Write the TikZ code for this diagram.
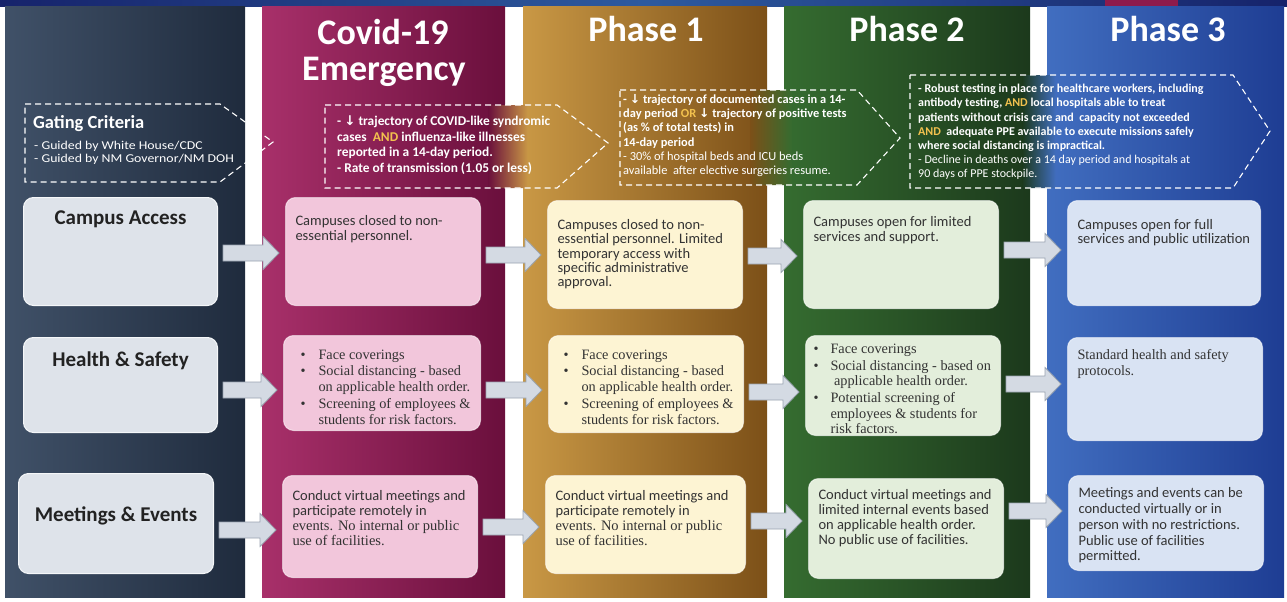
\documentclass[tikz,border=0pt]{standalone}
\usepackage{graphicx}
\usepackage{fontspec}
\setmainfont{Carlito}
\newfontfamily\serifbody{Liberation Serif}
\newfontfamily\headfont{Carlito}
\newfontfamily\symfont{DejaVu Sans}
\usetikzlibrary{calc}

\definecolor{topA}{HTML}{16236B}
\definecolor{topB}{HTML}{2D5A9E}
\definecolor{tabc}{HTML}{8E1B4C}
\definecolor{cZL}{HTML}{405168}
\definecolor{cZR}{HTML}{1F2B3D}
\definecolor{cAL}{HTML}{A8306A}
\definecolor{cAR}{HTML}{6A0F3C}
\definecolor{cBL}{HTML}{C99845}
\definecolor{cBR}{HTML}{7C5018}
\definecolor{cCL}{HTML}{356C30}
\definecolor{cCR}{HTML}{1C391C}
\definecolor{cDL}{HTML}{416EC0}
\definecolor{cDR}{HTML}{1E3D93}
\definecolor{grayb}{HTML}{DEE3EA}
\definecolor{pinkb}{HTML}{F2C6DB}
\definecolor{creamb}{HTML}{FDF4D3}
\definecolor{greenb}{HTML}{E3EEDB}
\definecolor{blueb}{HTML}{D9E3F3}
\definecolor{arrf}{HTML}{D4DAE3}
\definecolor{arrd}{HTML}{9AA4B0}
\definecolor{txt}{HTML}{333333}
\definecolor{lbltxt}{HTML}{222222}
\definecolor{andc}{HTML}{F2C14E}

\newcommand\bsans[2]{\fontsize{#1}{#2}\selectfont\color{txt}}
\newcommand\bser[2]{\serifbody\fontsize{#1}{#2}\selectfont\color{txt}}
\newcommand\lns[2]{{#1\begin{tabular}[t]{@{\hspace{10pt}}l@{}}#2\end{tabular}}}
% bullet offset, text gap, rows
\newcommand\bulls[3]{{\bser{14.3}{15.5}\begin{tabular}[t]{@{\hspace{#1pt}}l@{\hspace{#2pt}}l@{}}#3\end{tabular}}}
\newcommand\dn{{\symfont\char"2193}}

\tikzset{
 headtxt/.style={text=white, inner sep=0pt, anchor=base, font=\headfont\bfseries\fontsize{36}{38}\selectfont},
 crit/.style={draw=white, dash pattern=on 6pt off 4pt, line width=1.1pt},
 crittxt/.style={text=white, inner sep=0pt, anchor=north west, align=left},
 lboxst/.style={rounded corners=10pt, draw=white!70!grayb, line width=1pt, fill=grayb, inner sep=0pt, text=lbltxt, anchor=north west},
 cboxst/.style={rounded corners=10pt, draw=white, draw opacity=0.55, line width=1pt, inner sep=0pt, anchor=north west},
 blockarrow/.style={fill=arrf, draw=arrd, line width=0.8pt},
}

% name, x1, y1, x2, y2, fill, top pad, content
\newcommand\contentbox[8]{%
 \node[cboxst, fill=#6] (#1) at (#2,#3)
 {\parbox[c][\dimexpr #5pt-#3pt\relax][t]{\dimexpr #4pt-#2pt\relax}{\vspace*{#7pt}\noindent #8}};}
% name, x1, y1, x2, y2, top pad, label
\newcommand\labelbox[7]{%
 \node[lboxst] (#1) at (#2,#3)
 {\parbox[c][\dimexpr #5pt-#3pt\relax][t]{\dimexpr #4pt-#2pt\relax}{\vspace*{#6pt}\centering\bfseries\fontsize{21}{24}\selectfont #7}};}
% from node, to node, y
\newcommand\blockarr[3]{%
 \draw[blockarrow] let \p1=(#1.east), \p2=(#2.west), \p3=(0,#3) in
 (\x1+5pt,\y3+8pt) -- (\x2-22pt,\y3+8pt) -- (\x2-22pt,\y3+16.5pt) -- (\x2-6pt,\y3)
 -- (\x2-22pt,\y3-16.5pt) -- (\x2-22pt,\y3-8pt) -- (\x1+5pt,\y3-8pt) -- cycle;}

\begin{document}
\begin{tikzpicture}[x=1pt,y=-1pt]
\useasboundingbox (0,0) rectangle (1287,602);
\fill[white] (0,0) rectangle (1287,602);

% top strip
\shade[left color=topA, right color=topA, middle color=topB] (0,0) rectangle (1287,7);
\fill[tabc] (1105,0) rectangle (1178,7);

% columns
\shade[left color=cZL, right color=cZR] (5,7) rectangle (245,597);
\shade[left color=cAL, right color=cAR] (262,7) rectangle (505,597);
\shade[left color=cBL, right color=cBR] (523,7) rectangle (767,597);
\shade[left color=cCL, right color=cCR] (784,7) rectangle (1030,597);
\shade[left color=cDL, right color=cDR] (1047,7) rectangle (1284,597);

% headers
\node[headtxt] (hcov) at (383,45) {Covid-19};
\node[headtxt] (hemg) at (384,81) {Emergency};
\node[headtxt] (hp1) at (646,42) {Phase 1};
\node[headtxt] (hp2) at (907,42) {Phase 2};
\node[headtxt] (hp3) at (1168,42) {Phase 3};

% criteria arrows
\coordinate (g1) at (25,104);  \coordinate (g2) at (220,104); \coordinate (g3) at (273,142);
\coordinate (g4) at (220,182); \coordinate (g5) at (25,182);
\draw[crit] (g1) -- (g2) -- (g3) -- (g4) -- (g5) -- cycle;

\coordinate (e1) at (325,105); \coordinate (e2) at (557,105); \coordinate (e3) at (608,143);
\coordinate (e4) at (557,188); \coordinate (e5) at (325,188);
\begin{scope}
 \clip (e1) -- (e2) -- (e3) -- (e4) -- (e5) -- cycle;
 \shade[left color=cAR, right color=cBL] (488,100) rectangle (528,195);
\end{scope}
\draw[crit] (e1) -- (e2) -- (e3) -- (e4) -- (e5) -- cycle;

\coordinate (p1) at (620,90); \coordinate (p2) at (857,90); \coordinate (p3) at (900,138);
\coordinate (p4) at (857,185); \coordinate (p5) at (620,185);
\begin{scope}
 \clip (p1) -- (p2) -- (p3) -- (p4) -- (p5) -- cycle;
 \shade[left color=cBR, right color=cCL] (750,85) rectangle (792,190);
\end{scope}
\draw[crit] (p1) -- (p2) -- (p3) -- (p4) -- (p5) -- cycle;

\coordinate (q1) at (910,75); \coordinate (q2) at (1233,75); \coordinate (q3) at (1270,131);
\coordinate (q4) at (1233,188); \coordinate (q5) at (910,188);
\begin{scope}
 \clip (q1) -- (q2) -- (q3) -- (q4) -- (q5) -- cycle;
 \shade[left color=cCR, right color=cDL] (1022,70) rectangle (1056,192);
\end{scope}
\draw[crit] (q1) -- (q2) -- (q3) -- (q4) -- (q5) -- cycle;

% criteria texts
\node[crittxt, font=\bfseries\fontsize{18.5}{20}\selectfont] (gtitle) at (33,115) {Gating Criteria};
\node[crittxt, font=\fontsize{12}{12.4}\selectfont] (gsub) at (34,141)
 {\scalebox{1.15}[1]{\begin{tabular}{@{}l@{}}- Guided by White House/CDC\\- Guided by NM Governor/NM DOH\end{tabular}}};

\node[crittxt, font=\bfseries\fontsize{13.4}{15.5}\selectfont] (ecrit) at (337,116)
 {- \dn\ trajectory of COVID-like syndromic\\
  cases~ \textcolor{andc}{AND} influenza-like illnesses\\
  reported in a 14-day period.\\
  - Rate of transmission (1.05 or less)};

\node[crittxt, font=\bfseries\fontsize{12.4}{14.3}\selectfont] (p1crit) at (623,94)
 {- \dn\ trajectory of documented cases in a 14-\\
  day period \textcolor{andc}{OR} \dn\ trajectory of positive tests\\
  (as \% of total tests) in\\
  14-day period\\
  {\mdseries - 30\% of hospital beds and ICU beds}\\
  {\mdseries available~ after elective surgeries resume.}};

\node[crittxt, font=\bfseries\fontsize{12}{14.2}\selectfont] (p2crit) at (918,84)
 {- Robust testing in place for healthcare workers, including\\
  antibody testing, \textcolor{andc}{AND} local hospitals able to treat\\
  patients without crisis care and~ capacity not exceeded\\
  \textcolor{andc}{AND}~ adequate PPE available to execute missions safely\\
  where social distancing is impractical.\\
  {\mdseries - Decline in deaths over a 14 day period and hospitals at}\\
  {\mdseries 90 days of PPE stockpile.}};

% label boxes
\labelbox{la1}{23}{197}{217}{305}{13.5}{Campus Access}
\labelbox{la2}{23}{337}{217}{432}{14.5}{Health \& Safety}
\labelbox{la3}{18}{473}{213}{573}{33.5}{Meetings \& Events}

% row 1
\contentbox{b11}{285}{197}{480}{305}{pinkb}{18}
 {\lns{\bsans{14.5}{14.5}}{Campuses closed to non-\\essential personnel.}}
\contentbox{b12}{547}{200}{742}{308}{creamb}{19}
 {\lns{\bsans{14.5}{14.2}}{Campuses closed to non-\\essential personnel. Limited\\temporary access with\\specific administrative\\approval.}}
\contentbox{b13}{803}{200}{998}{308}{greenb}{15}
 {\lns{\bsans{14.5}{15}}{Campuses open for limited\\services and support.}}
\contentbox{b14}{1067}{200}{1260}{305}{blueb}{19}
 {\lns{\bsans{14.5}{14}}{Campuses open for full\\services and public utilization}}

% row 2
\contentbox{b21}{283}{335}{480}{430}{pinkb}{13.5}
 {\bulls{17}{13}{\textbullet & Face coverings\\[0.5pt]
  \textbullet & Social distancing - based\\ & on applicable health order.\\[2pt]
  \textbullet & Screening of employees \&\\ & students for risk factors.}}
\contentbox{b22}{548}{335}{743}{432}{creamb}{13.5}
 {\bulls{15}{13}{\textbullet & Face coverings\\[0.5pt]
  \textbullet & Social distancing - based\\ & on applicable health order.\\[2pt]
  \textbullet & Screening of employees \&\\ & students for risk factors.}}
\contentbox{b23}{805}{335}{1000}{435}{greenb}{7.5}
 {\bulls{8}{12}{\textbullet & Face coverings\\[1pt]
  \textbullet & Social distancing - based on\\ & \ applicable health order.\\[1.5pt]
  \textbullet & Potential screening of\\ & employees \& students for\\ & risk factors.}}
\contentbox{b24}{1067}{337}{1262}{440}{blueb}{10.5}
 {\lns{\bser{14.3}{16}}{Standard health and safety\\protocols.}}

% row 3
\contentbox{b31}{282}{475}{477}{577}{pinkb}{14.5}
 {\lns{\bsans{14.5}{15}}{Conduct virtual meetings and\\participate remotely in\\{\serifbody events. No internal or public}\\{\serifbody use of facilities.}}}
\contentbox{b32}{545}{475}{745}{573}{creamb}{14.5}
 {\lns{\bsans{14.5}{15}}{Conduct virtual meetings and\\participate remotely in\\{\serifbody events. No internal or public}\\{\serifbody use of facilities.}}}
\contentbox{b33}{808}{478}{1003}{578}{greenb}{10.5}
 {\lns{\bsans{14.5}{15}}{Conduct virtual meetings and\\limited internal events based\\on applicable health order.\\No public use of facilities.}}
\contentbox{b34}{1068}{475}{1263}{570}{blueb}{11.5}
 {\lns{\bsans{14.5}{15.7}}{Meetings and events can be\\conducted virtually or in\\person with no restrictions.\\Public use of facilities\\permitted.}}

% block arrows
\blockarr{la1}{b11}{253}
\blockarr{b11}{b12}{255}
\blockarr{b12}{b13}{256}
\blockarr{b13}{b14}{250}
\blockarr{la2}{b21}{390}
\blockarr{b21}{b22}{390}
\blockarr{b22}{b23}{392}
\blockarr{b23}{b24}{384}
\blockarr{la3}{b31}{530}
\blockarr{b31}{b32}{527}
\blockarr{b32}{b33}{521}
\blockarr{b33}{b34}{511}
\end{tikzpicture}
\end{document}
